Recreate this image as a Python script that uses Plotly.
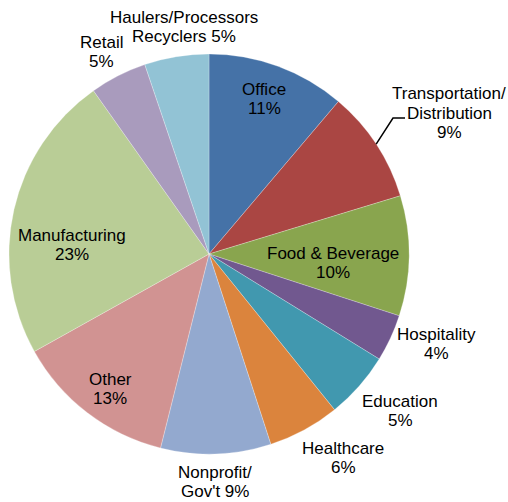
import math
import plotly.graph_objects as go

# ---- data ----
categories = ["Office", "Transportation/Distribution", "Food & Beverage", "Hospitality",
              "Education", "Healthcare", "Nonprofit/Gov't", "Other", "Manufacturing",
              "Retail", "Haulers/Processors Recyclers"]
values = [11.2, 9.1, 9.7, 3.8, 5.4, 5.8, 8.9, 13.0, 23.3, 4.6, 5.2]
label_texts = ["Office<br>11%", "Transportation/<br>Distribution<br>9%", "Food & Beverage<br>10%",
               "Hospitality<br>4%", "Education<br>5%", "Healthcare<br>6%", "Nonprofit/<br>Gov't 9%",
               "Other<br>13%", "Manufacturing<br>23%", "Retail<br>5%",
               "Haulers/Processors<br>Recyclers 5%"]

# ---- styles / layout ----
colors = ["#4572A7", "#AA4643", "#89A54E", "#71588F", "#4198AF", "#DB843D",
          "#93A9CF", "#D19392", "#B9CD96", "#A99BBD", "#92C3D5"]
W, H = 508, 502
CX, CY, R = 209, 254, 200  # pie centre / radius in px
LINE_H = 19.5
FONT_SIZE = 17
# label block centre positions in px (layout)
label_pos = [(264, 99), (449, 113), (333, 263), (436, 344), (400, 411), (343, 458),
             (215, 482), (110, 389), (72, 245), (101, 52), (184, 27)]

fig = go.Figure(go.Pie(
    labels=categories, values=values, sort=False, direction="clockwise", rotation=0,
    textinfo="none", hoverinfo="label+percent",
    marker=dict(colors=colors, line=dict(color="rgba(255,255,255,0.5)", width=0.5)),
    domain=dict(x=[(CX - R) / W, (CX + R) / W], y=[(H - CY - R) / H, (H - CY + R) / H]),
    showlegend=False,
))

annotations = []
for txt, (px, py) in zip(label_texts, label_pos):
    lines = txt.split("<br>")
    n = len(lines)
    for i, line in enumerate(lines):
        ly = py + (i - (n - 1) / 2) * LINE_H
        annotations.append(dict(x=px / W, y=1 - ly / H, xref="paper", yref="paper", text=line,
                                showarrow=False, xanchor="center", yanchor="middle",
                                font=dict(family="Liberation Sans, Arial, sans-serif",
                                          size=FONT_SIZE, color="#000000")))

# leader line for Transportation label, starting at the slice's mid-angle on the rim
total = sum(values)
start = sum(values[:1])
mid = (start + values[1] / 2) / total * 2 * math.pi
x0 = CX + R * math.sin(mid)
y0 = CY - R * math.cos(mid)
pts = [(x0, y0), (393, 118), (405, 118)]
path = "M " + " L ".join(f"{x / W},{1 - y / H}" for x, y in pts)
shapes = [dict(type="path", xref="paper", yref="paper", path=path,
               line=dict(color="#000000", width=1.5))]

fig.update_layout(width=W, height=H, margin=dict(l=0, r=0, t=0, b=0),
                  paper_bgcolor="white", plot_bgcolor="white",
                  annotations=annotations, shapes=shapes)
fig.write_html("out.html", config={"displayModeBar": False},
               post_script="document.body.style.margin='0';document.body.style.overflow='hidden';")
